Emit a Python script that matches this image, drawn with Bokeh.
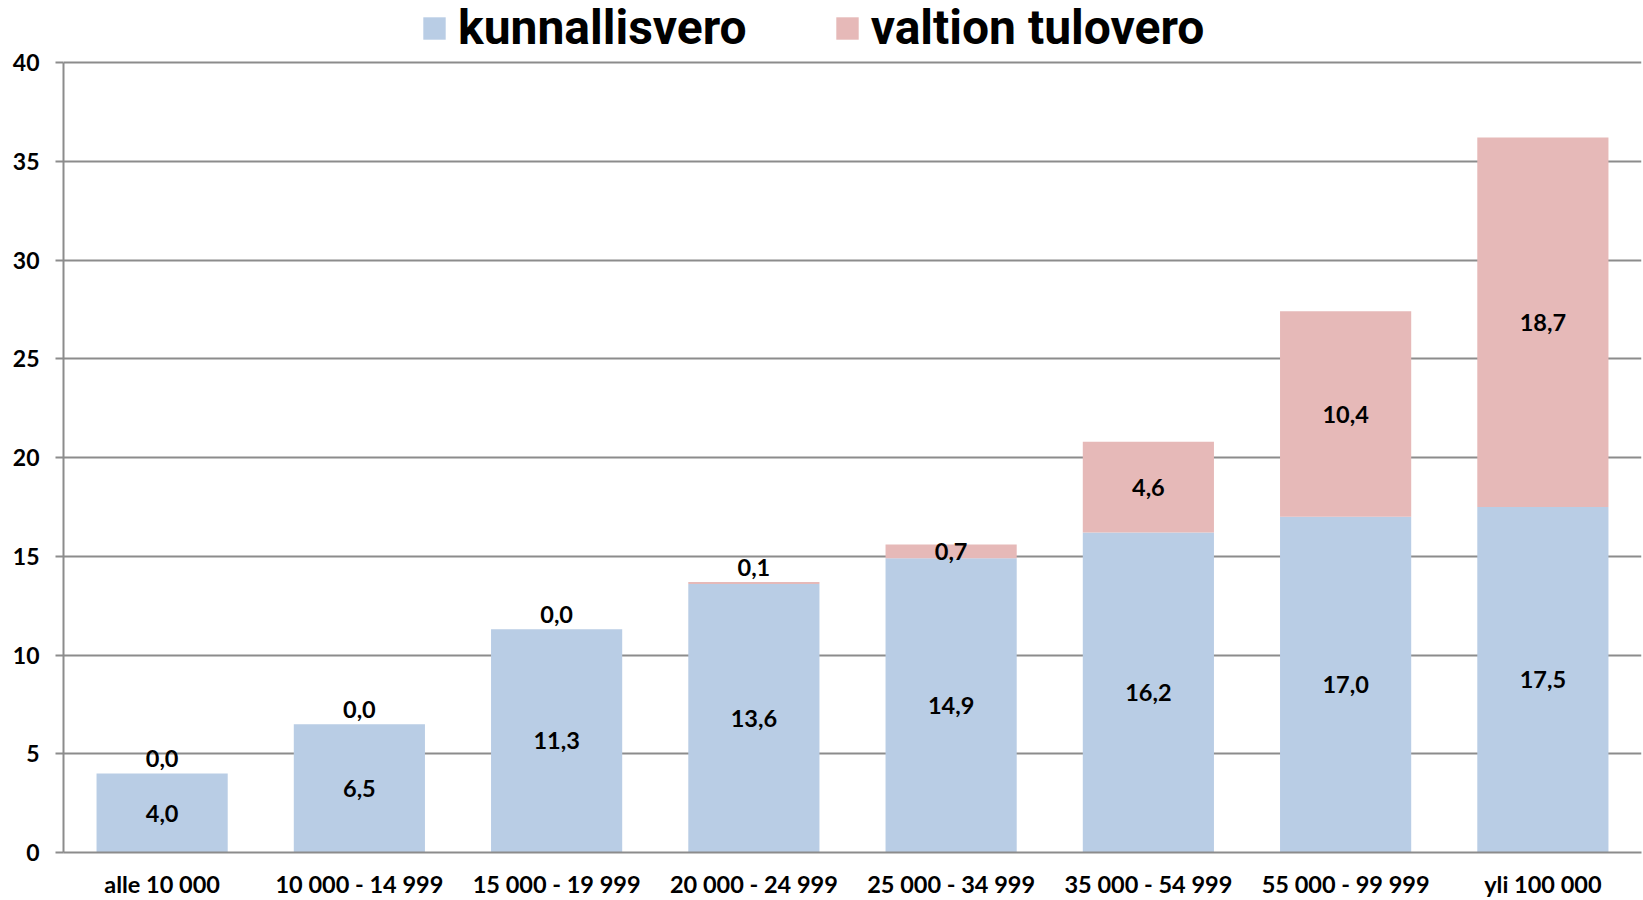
from bokeh.plotting import figure
from bokeh.models import ColumnDataSource, Legend, LegendItem, FactorRange
from bokeh.core.properties import value
from bokeh.embed import file_html
from bokeh.resources import INLINE

categories = ["alle 10 000", "10 000 - 14 999", "15 000 - 19 999", "20 000 - 24 999",
              "25 000 - 34 999", "35 000 - 54 999", "55 000 - 99 999", "yli 100 000"]
kunnallisvero = [4.0, 6.5, 11.3, 13.6, 14.9, 16.2, 17.0, 17.5]
valtion_tulovero = [0.0, 0.0, 0.0, 0.1, 0.7, 4.6, 10.4, 18.7]
series_names = ["kunnallisvero", "valtion tulovero"]
y_ticks = [0, 5, 10, 15, 20, 25, 30, 35, 40]

BLUE = "#B9CDE5"
PINK = "#E6B9B8"
GRID = "#8C8C8C"
FONT = "Lato"
LEGEND_FONT = "Roboto"

def fmt(v):
    return f"{v:.1f}".replace(".", ",")

# layout: plot area (0..40) is 790 px tall, with 62 px above it kept for the legend
Y_MAX = 40
FRAME_PX = 852
AXIS_PX = 790
y_end = Y_MAX * FRAME_PX / AXIS_PX

src = ColumnDataSource(dict(x=categories, k=kunnallisvero, v=valtion_tulovero))

p = figure(x_range=FactorRange(*categories), y_range=(0, y_end),
           width=1643, height=900, output_backend="svg", toolbar_location=None,
           min_border_left=63, min_border_right=2, min_border_top=0, min_border_bottom=40)

rs = p.vbar_stack(["k", "v"], x="x", width=0.665, source=src, color=[BLUE, PINK],
                  line_color=None)

# data labels
k_y = [k / 2 for k in kunnallisvero]
v_y = []
for k, v in zip(kunnallisvero, valtion_tulovero):
    top = k + v
    v_y.append(top + 0.75 if v < 0.5 else k + v / 2)
lab_src = ColumnDataSource(dict(
    x=categories + categories,
    y=k_y + v_y,
    t=[fmt(a) for a in kunnallisvero] + [fmt(b) for b in valtion_tulovero]))
p.text(x="x", y="y", text="t", source=lab_src, text_align="center",
       text_baseline="middle", text_font=value(FONT), text_font_style="bold",
       text_font_size="23.5px", text_color="black")

# axes
p.xaxis.major_tick_line_color = None
p.xaxis.minor_tick_line_color = None
p.xaxis.axis_line_color = GRID
p.xaxis.axis_line_width = 2
p.xaxis.major_label_text_font = FONT
p.xaxis.major_label_text_font_style = "bold"
p.xaxis.major_label_text_font_size = "23.5px"
p.xaxis.major_label_text_color = "black"
p.xaxis.major_label_text_line_height = 1.0
p.xaxis.major_label_standoff = 11

p.yaxis.ticker = y_ticks
p.yaxis.bounds = (0, Y_MAX)
p.yaxis.axis_line_color = GRID
p.yaxis.axis_line_width = 2
p.yaxis.major_tick_line_color = GRID
p.yaxis.major_tick_line_width = 2
p.yaxis.major_tick_out = 8
p.yaxis.major_tick_in = 0
p.yaxis.minor_tick_line_color = None
p.yaxis.major_label_text_font = FONT
p.yaxis.major_label_text_font_style = "bold"
p.yaxis.major_label_text_font_size = "23px"
p.yaxis.major_label_text_color = "black"
p.yaxis.major_label_standoff = 16

p.xgrid.grid_line_color = None
p.ygrid.grid_line_color = GRID
p.ygrid.grid_line_width = 2
p.outline_line_color = None

legend = Legend(items=[LegendItem(label=series_names[0], renderers=[rs[0]]),
                       LegendItem(label=series_names[1], renderers=[rs[1]])],
                orientation="horizontal", location=(357, 796),
                padding=0, margin=0, spacing=86, label_standoff=10,
                glyph_width=28, glyph_height=28,
                label_text_font=LEGEND_FONT,
                label_text_font_style="bold", label_text_font_size="48px",
                label_text_color="black",
                border_line_color=None, background_fill_alpha=0)
p.add_layout(legend, "center")

open("out.html", "w").write(file_html(p, INLINE))
